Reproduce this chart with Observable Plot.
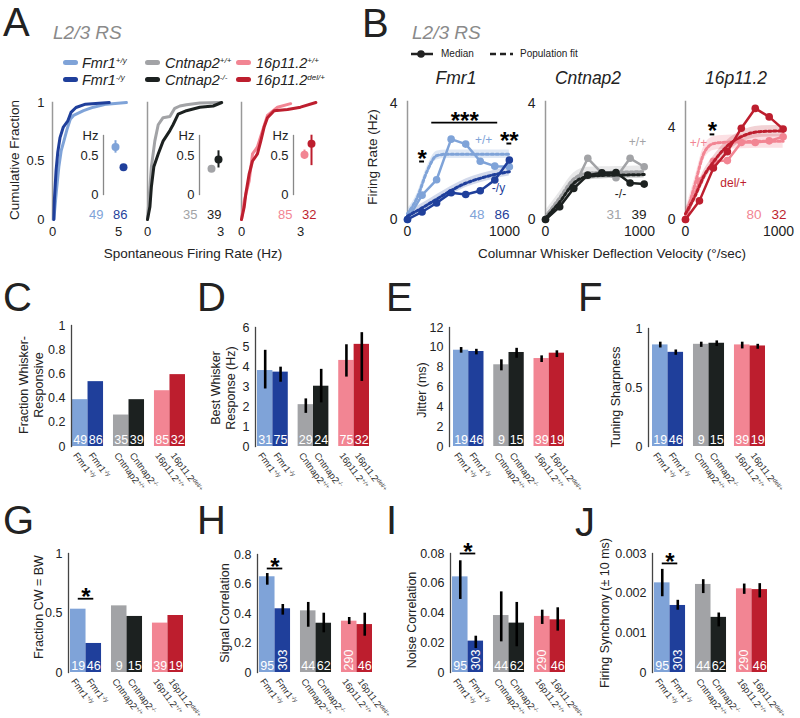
<!DOCTYPE html>
<html><head><meta charset="utf-8">
<script src="https://cdn.jsdelivr.net/npm/d3@7"></script>
<script src="https://cdn.jsdelivr.net/npm/@observablehq/plot@0.6"></script>
<style>
html,body{margin:0;padding:0;background:#fff;overflow:hidden;}
#root{position:relative;width:800px;height:718px;overflow:hidden;font-family:"Liberation Sans",Arial,Helvetica,sans-serif;color:#222;}
#root > svg{position:absolute;left:0;top:0;}
.lab{position:absolute;white-space:nowrap;line-height:1;}
.lab sup{font-size:0.55em;line-height:0;vertical-align:baseline;position:relative;top:-0.62em;}
</style></head>
<body><div id="root"></div>
<script>
// ---------------- DATA ----------------
const genotypes = ["Fmr1+/y","Fmr1-/y","Cntnap2+/+","Cntnap2-/-","16p11.2+/+","16p11.2del/+"];
const genoBase = ["Fmr1","Fmr1","Cntnap2","Cntnap2","16p11.2","16p11.2"];
const genoSup = ["+/y","-/y","+/+","-/-","+/+","del/+"];
const genoColors = ["#7fa3d8","#1f3f9b","#a2a3a6","#1c2120","#f28593","#bd1e2e"];

// Panel A: cumulative distributions of spontaneous firing rate (Hz)
const cdfFmr1WtX = [0.1,0.3,0.48,0.66,0.86,1.1,1.36,1.6,2.35,3.1,4.1,5.6];
const cdfFmr1WtY = [0,0.25,0.45,0.59,0.67,0.77,0.86,0.89,0.93,0.96,0.986,1];
const cdfFmr1KoX = [0.1,0.14,0.27,0.4,0.57,0.82,1.15,1.4,1.78,2.5,4.3];
const cdfFmr1KoY = [0,0.164,0.42,0.575,0.7,0.79,0.84,0.915,0.957,0.986,1];
const cdfCntWtX = [0,0.16,0.3,0.44,0.64,0.92,1.12,1.33,1.6,2.15,2.97];
const cdfCntWtY = [0,0.45,0.67,0.81,0.87,0.88,0.95,0.97,0.98,0.995,1];
const cdfCntKoX = [0,0.1,0.16,0.26,0.44,0.64,0.92,1.05,1.26,1.6,2.15,2.7,3.05];
const cdfCntKoY = [0,0.11,0.28,0.45,0.56,0.67,0.76,0.81,0.9,0.93,0.96,0.97,1];
const cdf16pWtX = [0,0.14,0.39,0.56,0.81,1.07,1.32,1.83,2.5];
const cdf16pWtY = [0,0.16,0.33,0.56,0.62,0.76,0.89,0.96,0.99];
const cdf16pKoX = [0,0.14,0.22,0.39,0.56,0.81,0.98,1.15,1.32,1.66,2.34,3.0,3.78];
const cdf16pKoY = [0,0.11,0.22,0.39,0.5,0.56,0.67,0.79,0.87,0.93,0.94,0.96,1];
const spontMean = [0.61,0.35,0.33,0.45,0.51,0.65];
const spontLo = [0.53,0.33,0.29,0.34,0.45,0.37];
const spontHi = [0.69,0.37,0.37,0.56,0.57,0.76];
const nSpont = [49,86,35,39,85,32];

// Panel B: firing rate vs velocity
const velocities = [0,150,300,450,600,750,900,1050];
const rateFmr1Wt = [0,0.84,1.37,2.77,2.6,2.01,1.84,1.82];
const rateFmr1Ko = [0,0.26,0.57,0.92,0.86,0.99,1.36,2.05];
const rateCntWt = [0,0.44,1.1,2.11,1.6,1.44,2.11,1.82];
const rateCntKo = [0,0.44,1.07,1.53,1.61,1.62,1.26,1.22];
const rate16pWt = [0,1.67,2.53,2.56,3.35,3.35,3.42,3.6];
const rate16pKo = [0,0.81,2.24,2.95,3.97,4.83,4.46,3.93];
const fitVelA = [0,100,200,300,400,600,800,1050];
const fitVelB = [0,150,300,450,600,750,900,1050];
const fitVelC = [0,100,200,300,450,600,800,1050];
const fitFmr1Wt = [0.2,0.75,1.65,2.2,2.25,2.25,2.25,2.25];
const fitFmr1Ko = [0.12,0.4,0.7,1.0,1.25,1.42,1.55,1.65];
const fitCntWt = [0.1,0.75,1.4,1.6,1.62,1.63,1.64,1.65];
const fitCntKo = [0.05,0.6,1.25,1.48,1.52,1.53,1.54,1.55];
const fit16pWt = [0.1,1.5,2.9,3.3,3.35,3.38,3.4,3.4];
const fit16pKo = [0.25,1.0,1.9,2.5,3.2,3.6,3.82,3.85];
const fitCI = [0.15,0.15,0.2,0.12,0.3,0.25];
const nRate = [48,86,31,39,80,32];

// Panels C–J
const fracResponsive = [0.387,0.536,0.26,0.387,0.461,0.594];
const nResponsive = [49,86,35,39,85,32];
const bestResp = [3.83,3.75,2.11,3.04,4.34,5.15];
const bestRespLo = [2.9,3.24,1.67,2.2,3.5,3.28];
const bestRespHi = [4.85,4.0,2.4,3.89,5.13,5.74];
const nBest = [31,75,29,24,75,32];
const jitter = [9.71,9.58,8.24,9.48,8.87,9.41];
const jitterLo = [9.41,9.24,7.63,8.9,8.47,8.97];
const jitterHi = [9.98,9.8,8.74,9.9,9.14,9.65];
const sharpness = [0.861,0.798,0.866,0.875,0.861,0.852];
const sharpLo = [0.835,0.773,0.84,0.847,0.827,0.824];
const sharpHi = [0.884,0.818,0.884,0.895,0.884,0.866];
const nUnits = [19,46,9,15,39,19];
const fracCWBW = [0.532,0.244,0.56,0.471,0.415,0.479];
const sigCorr = [0.649,0.432,0.418,0.334,0.348,0.325];
const sigCorrLo = [0.592,0.389,0.307,0.269,0.325,0.246];
const sigCorrHi = [0.671,0.461,0.475,0.402,0.373,0.402];
const noiseCorr = [0.0643,0.0211,0.0383,0.0332,0.0377,0.0354];
const noiseCorrLo = [0.0491,0.0161,0.0206,0.0173,0.0323,0.0278];
const noiseCorrHi = [0.0751,0.0244,0.0542,0.0471,0.0419,0.0435];
const synchrony = [0.00226,0.00169,0.00222,0.00139,0.00211,0.00209];
const synchronyLo = [0.00191,0.00157,0.00199,0.00115,0.00197,0.00188];
const synchronyHi = [0.0026,0.00182,0.00234,0.0015,0.00223,0.00224];
const nPairs = [95,303,44,62,290,46];
const sigLevelG = 0.62, sigLevelH = 0.705, sigLevelI = 0.08, sigLevelJ = 0.00275;

// ---------------- HELPERS ----------------
const FONT = '"Liberation Sans", Arial, Helvetica, sans-serif';
const root = document.getElementById("root");
function M(l,t,r,b){ return {marginLeft:l, marginTop:t, marginRight:800-r, marginBottom:718-b}; }
function mk(opts){
  const svg = Plot.plot(Object.assign({width:800, height:718, style:{background:"none", overflow:"visible", fontFamily:FONT, color:"#222"}}, opts));
  root.appendChild(svg);
  return svg;
}
function lab(html, x, base, size, o={}){
  const d = document.createElement("div");
  d.className = "lab"; d.innerHTML = html;
  d.style.fontSize = size+"px";
  d.style.left = x+"px";
  d.style.top = (base - 0.8465*size)+"px";
  if (o.anchor==="middle") d.style.transform = "translateX(-50%)";
  if (o.anchor==="end") d.style.transform = "translateX(-100%)";
  if (o.color) d.style.color = o.color;
  if (o.italic) d.style.fontStyle = "italic";
  root.appendChild(d);
  return d;
}
function vlab(html, cx, cy, size){
  const d = document.createElement("div");
  d.className = "lab"; d.innerHTML = html;
  d.style.fontSize = size+"px"; d.style.lineHeight = "1.2"; d.style.textAlign = "center";
  d.style.left = cx+"px"; d.style.top = cy+"px";
  d.style.transform = "translate(-50%,-50%) rotate(-90deg)";
  root.appendChild(d);
}
const pts = (xs, ys) => xs.map((x,i)=>({x, y: ys[i]}));
const STAR = {fontSize:24, fontWeight:"bold", lineAnchor:"bottom", dy:6.5, fill:"#000"};
const NOAX = {axis:null, label:null};

// ---------------- PANEL A ----------------
const aPanels = [
  {axisX:52, right:127, dom:[0,5], rng:[52,118], xt:[0,5], wt:pts(cdfFmr1WtX,cdfFmr1WtY), ko:pts(cdfFmr1KoX,cdfFmr1KoY), yt:true, i:0, inset:{axisX:103, px:[111,127]}},
  {axisX:147, right:221, dom:[0,3], rng:[147,220], xt:[0,3], wt:pts(cdfCntWtX,cdfCntWtY), ko:pts(cdfCntKoX,cdfCntKoY), yt:false, i:2, inset:{axisX:199, px:[207,221]}},
  {axisX:241, right:316, dom:[0,3], rng:[241,300], xt:[0,3], wt:pts(cdf16pWtX,cdf16pWtY), ko:pts(cdf16pKoX,cdf16pKoY), yt:false, i:4, inset:{axisX:293, px:[300,315]}}
];
for (const p of aPanels){
  const cW = genoColors[p.i], cK = genoColors[p.i+1];
  const marks = [
    Plot.frame({anchor:"left", stroke:"#999", strokeWidth:1.5}),
    Plot.line(p.wt, {x:"x", y:"y", stroke:cW, strokeWidth:3}),
    Plot.line(p.ko, {x:"x", y:"y", stroke:cK, strokeWidth:3}),
    Plot.axisX({ticks:p.xt, tickSize:0, tickPadding:7, fontSize:13, tickFormat:d=>String(d), label:null}),
    Plot.text([nSpont[p.i]], {frameAnchor:"bottom-right", textAnchor:"end", lineAnchor:"bottom", text:d=>String(d), dx:-24, dy:-1, fill:cW, fontSize:13}),
    Plot.text([nSpont[p.i+1]], {frameAnchor:"bottom-right", textAnchor:"end", lineAnchor:"bottom", text:d=>String(d), dx:0, dy:-1, fill:cK, fontSize:13})
  ];
  if (p.yt) marks.push(Plot.axisY({ticks:[0,0.5,1], tickSize:0, tickPadding:8, fontSize:13, tickFormat:d=>String(d), label:null}));
  mk({...M(p.axisX,102,p.right,219), x:{domain:p.dom, range:p.rng, ...NOAX}, y:{domain:[0,1], range:[219,102], ...NOAX}, marks});
  // inset: mean spontaneous rate
  const rows = [0,1].map(k=>({g:genotypes[p.i+k], m:spontMean[p.i+k], lo:spontLo[p.i+k], hi:spontHi[p.i+k], c:genoColors[p.i+k]}));
  mk({...M(p.inset.axisX,135,p.inset.axisX+30,194),
    x:{type:"point", domain:rows.map(r=>r.g), range:p.inset.px, ...NOAX},
    y:{domain:[0,0.5], range:[194,155], ...NOAX},
    color:{type:"identity"},
    marks:[
      Plot.frame({anchor:"left", stroke:"#888", strokeWidth:1.3}),
      Plot.ruleX(rows, {x:"g", y1:"lo", y2:"hi", stroke:"c", strokeWidth:2}),
      Plot.dot(rows, {x:"g", y:"m", r:4, fill:"c"}),
      Plot.axisY({ticks:[0,0.5], tickSize:0, tickPadding:5, fontSize:13, tickFormat:d=>String(d), label:null}),
      Plot.text(["Hz"], {frameAnchor:"top-left", textAnchor:"end", lineAnchor:"bottom", dx:-5, dy:4, fontSize:13})
    ]});
}

// ---------------- PANEL B ----------------
const bPanels = [
  {axisX:407, x1000:504, right:509, y4:103, i:0, wt:rateFmr1Wt, ko:rateFmr1Ko, wtF:[fitVelA,fitFmr1Wt], koF:[fitVelB,fitFmr1Ko],
   labels:[{v:784,y:2.72,t:"+/+",c:genoColors[0]},{v:938,y:1.07,t:"-/y",c:genoColors[1]}],
   lines:[{x1:250,x2:930,y:3.34,t:"***"}], dashes:[{v:150,y:2.0,t:"*"},{v:1050,y:2.62,t:"**"}]},
  {axisX:545, x1000:639, right:646, y4:103, i:2, wt:rateCntWt, ko:rateCntKo, wtF:[fitVelB,fitCntWt], koF:[fitVelB,fitCntKo],
   labels:[{v:979,y:2.66,t:"+/+",c:genoColors[2]},{v:798,y:0.86,t:"-/-",c:genoColors[3]}], lines:[], dashes:[]},
  {axisX:685, x1000:778, right:786, y4:127, i:4, wt:rate16pWt, ko:rate16pKo, wtF:[fitVelA,fit16pWt], koF:[fitVelC,fit16pKo],
   labels:[{v:140,y:3.3,t:"+/+",c:genoColors[4]},{v:516,y:1.6,t:"del/+",c:genoColors[5]}], lines:[], dashes:[{v:290,y:3.7,t:"*"}]}
];
for (const p of bPanels){
  const cW = genoColors[p.i], cK = genoColors[p.i+1];
  const med = vals => velocities.map((v,k)=>({v, y:vals[k]}));
  const fit = (f, w) => f[0].map((v,k)=>({v, y:f[1][k], lo:f[1][k]-w, hi:f[1][k]+w}));
  const wM = med(p.wt), kM = med(p.ko), wF = fit(p.wtF, fitCI[p.i]), kF = fit(p.koF, fitCI[p.i+1]);
  mk({...M(p.axisX,101,p.right,219),
    x:{domain:[0,1000], range:[p.axisX,p.x1000], ...NOAX},
    y:{domain:[0,4], range:[219,p.y4], ...NOAX},
    color:{type:"identity"},
    marks:[
      Plot.frame({anchor:"left", stroke:"#999", strokeWidth:1.5}),
      Plot.areaY(wF, {x:"v", y1:"lo", y2:"hi", fill:cW, fillOpacity:0.25, curve:"monotone-x"}),
      Plot.areaY(kF, {x:"v", y1:"lo", y2:"hi", fill:cK, fillOpacity:0.2, curve:"monotone-x"}),
      Plot.line(wM, {x:"v", y:"y", stroke:cW, strokeWidth:2.5}),
      Plot.dot(wM, {x:"v", y:"y", r:3.8, fill:cW}),
      Plot.line(wF, {x:"v", y:"y", stroke:cW, strokeWidth:3, strokeDasharray:"2.5,2.5", curve:"monotone-x"}),
      Plot.line(kF, {x:"v", y:"y", stroke:cK, strokeWidth:3, strokeDasharray:"2.5,2.5", curve:"monotone-x"}),
      Plot.line(kM, {x:"v", y:"y", stroke:cK, strokeWidth:2.5}),
      Plot.dot(kM, {x:"v", y:"y", r:3.8, fill:cK}),
      Plot.axisY({ticks:[0,4], tickSize:0, tickPadding:10, fontSize:14, tickFormat:d=>String(d), label:null}),
      Plot.axisX({ticks:[0,1000], tickSize:0, tickPadding:7, fontSize:14, tickFormat:d=>String(d), label:null}),
      Plot.text(p.labels, {x:"v", y:"y", text:"t", fill:"c", fontSize:12}),
      Plot.ruleY(p.lines, {x1:"x1", x2:"x2", y:"y", stroke:"#000", strokeWidth:1.8}),
      Plot.text(p.lines, {x:d=>(d.x1+d.x2)/2, y:"y", text:"t", ...STAR}),
      Plot.ruleY(p.dashes, {x1:d=>d.v-25, x2:d=>d.v+25, y:"y", stroke:"#000", strokeWidth:2}),
      Plot.text(p.dashes, {x:"v", y:"y", text:"t", ...STAR, dy:5}),
      Plot.text([nRate[p.i]], {frameAnchor:"bottom-right", textAnchor:"end", lineAnchor:"bottom", text:d=>String(d), dx:-25, dy:-1, fill:cW, fontSize:13.5}),
      Plot.text([nRate[p.i+1]], {frameAnchor:"bottom-right", textAnchor:"end", lineAnchor:"bottom", text:d=>String(d), dx:0, dy:-1, fill:cK, fontSize:13.5})
    ]});
}

// ---------------- PANELS C–J ----------------
const GAP = 0.64;
const barPanels = [
  {axisX:71, barStart:72, barEnd:185, y0:446, yTop:325, yMax:1, ticks:[0,0.2,0.4,0.6,0.8,1], v:fracResponsive, n:nResponsive},
  {axisX:255, barStart:257, barEnd:369, y0:446, yTop:327, yMax:6, ticks:[0,1,2,3,4,5,6], v:bestResp, lo:bestRespLo, hi:bestRespHi, n:nBest},
  {axisX:449, barStart:453, barEnd:564, y0:446, yTop:327, yMax:12, ticks:[0,2,4,6,8,10,12], v:jitter, lo:jitterLo, hi:jitterHi, n:nUnits},
  {axisX:648, barStart:652, barEnd:765, y0:446, yTop:328, yMax:1, ticks:[0,0.5,1], v:sharpness, lo:sharpLo, hi:sharpHi, n:nUnits},
  {axisX:68, barStart:70, barEnd:183, y0:672, yTop:553, yMax:1, ticks:[0,0.5,1], v:fracCWBW, n:nUnits, sig:sigLevelG},
  {axisX:257, barStart:259, barEnd:372, y0:672, yTop:554, yMax:0.8, ticks:[0,0.2,0.4,0.6,0.8], v:sigCorr, lo:sigCorrLo, hi:sigCorrHi, n:nPairs, sig:sigLevelH},
  {axisX:450, barStart:452, barEnd:565, y0:672, yTop:553, yMax:0.08, ticks:[0,0.02,0.04,0.06,0.08], v:noiseCorr, lo:noiseCorrLo, hi:noiseCorrHi, n:nPairs, sig:sigLevelI},
  {axisX:652, barStart:654, barEnd:767, y0:672, yTop:553, yMax:0.003, ticks:[0,0.001,0.002,0.003], v:synchrony, lo:synchronyLo, hi:synchronyHi, n:nPairs, sig:sigLevelJ}
];
for (const p of barPanels){
  const rows = genotypes.map((g,i)=>{ const x1 = Math.floor(i/2)*(2+GAP) + i%2;
    return {i, g, x1, x2:x1+1, xc:x1+0.5, v:p.v[i], lo:p.lo?p.lo[i]:null, hi:p.hi?p.hi[i]:null, n:String(p.n[i]), c:genoColors[i]}; });
  const marks = [
    Plot.rectY(rows, {x1:"x1", x2:"x2", y:"v", fill:"c"}),
    Plot.frame({anchor:"left", stroke:"#444", strokeWidth:1.3})
  ];
  if (p.lo) marks.push(Plot.ruleX(rows, {x:"xc", y1:"lo", y2:"hi", stroke:"#000", strokeWidth:2.6}));
  marks.push(Plot.text(rows.filter(r=>r.n.length<3), {x:"xc", y:()=>0, text:"n", fill:"white", fontSize:12.5, lineAnchor:"bottom", dy:-3}));
  marks.push(Plot.text(rows.filter(r=>r.n.length>=3), {x:"xc", y:()=>0, text:"n", fill:"white", fontSize:12.5, rotate:-90, textAnchor:"start", lineAnchor:"middle", dy:-2}));
  marks.push(Plot.text(rows, {x:"xc", y:()=>0, text:r=>genoBase[r.i], rotate:54, textAnchor:"start", lineAnchor:"top", dy:5, dx:-2, fontSize:9.4, fill:"#333"}));
  if (p.sig !== undefined){
    const a = rows[0].xc, b = rows[1].xc;
    marks.push(Plot.ruleY([p.sig], {x1:()=>a, x2:()=>b, y:d=>d, stroke:"#000", strokeWidth:1.8}));
    marks.push(Plot.text([p.sig], {x:()=>(a+b)/2, y:d=>d, text:()=>"*", ...STAR}));
  }
  marks.push(Plot.axisY({ticks:p.ticks, tickSize:0, tickPadding:6, fontSize:12.5, tickFormat:d=>String(d), label:null}));
  const svg = mk({...M(p.axisX,p.yTop,p.barEnd,p.y0),
    x:{domain:[0,6+2*GAP], range:[p.barStart,p.barEnd], ...NOAX},
    y:{domain:[0,p.yMax], range:[p.y0,p.yTop], ...NOAX},
    color:{type:"identity"}, marks});
  d3.select(svg).selectAll("text").filter(function(){ return /rotate\(54\)/.test(this.getAttribute("transform")||""); })
    .each(function(_, i){ d3.select(this).append("tspan").attr("dy", -3.3).attr("font-size", 6).text(genoSup[i]); });
}

// ---------------- TEXT: letters, titles, legends ----------------
const LS = 40;
[["A",3,36],["B",362,37],["C",3,311],["D",197,311],["E",386,311],["F",578,311],["G",3,534],["H",197,534],["I",386,534],["J",575,536]]
  .forEach(([t,x,b])=>lab(t,x,b,LS));
lab("L2/3 RS",53,39,19,{italic:true,color:"#8a8a8a"});
lab("L2/3 RS",412,39,19,{italic:true,color:"#8a8a8a"});
// legend A
const legCols = [[63,82],[145,165],[236,256]];
for (let i=0;i<6;i++){
  const col = legCols[Math.floor(i/2)], row = i%2;
  const cy = row ? 79 : 62;
  const sw = document.createElement("div");
  sw.style.cssText = `position:absolute;left:${col[0]}px;top:${cy-2.5}px;width:15px;height:5px;border-radius:3px;background:${genoColors[i]}`;
  root.appendChild(sw);
  lab(`${genoBase[i]}<sup>${genoSup[i]}</sup>`, col[1], cy+6, 14.5, {italic:true});
}
// legend B
const lg = d3.select(root).append("svg").attr("width",800).attr("height",718).style("position","absolute").style("left",0).style("top",0).style("pointer-events","none");
lg.append("line").attr("x1",411).attr("x2",433).attr("y1",54).attr("y2",54).attr("stroke","#222").attr("stroke-width",2.5);
lg.append("circle").attr("cx",421).attr("cy",54).attr("r",3.8).attr("fill","#222");
lg.append("line").attr("x1",490).attr("x2",513).attr("y1",54).attr("y2",54).attr("stroke","#222").attr("stroke-width",2.5).attr("stroke-dasharray","6,4");
lab("Median",441,57,10);
lab("Population fit",520,57,10);
lab("Fmr1",456,85,17.5,{italic:true,anchor:"middle"});
lab("Cntnap2",588,85,17.5,{italic:true,anchor:"middle"});
lab("16p11.2",736,85,17.5,{italic:true,anchor:"middle"});
lab("Spontaneous Firing Rate (Hz)",193,258,13.5,{anchor:"middle"});
lab("Columnar Whisker Deflection Velocity (°/sec)",612,258,13.5,{anchor:"middle"});
vlab("Cumulative Fraction",15,160,13.5);
vlab("Firing Rate (Hz)",373,157,13.5);
vlab("Fraction Whisker-<br>Responsive",31.5,385,12.5);
vlab("Best Whisker<br>Response (Hz)",224,388,12.5);
vlab("Jitter (ms)",422,390,12.5);
vlab("Tuning Sharpness",616,397,12.5);
vlab("Fraction CW = BW",39,607,12.5);
vlab("Signal Correlation",225,613,12.5);
vlab("Noise Correlation",412,620,12.5);
vlab("Firing Synchrony (± 10 ms)",605,613,12.5);
</script></body></html>
